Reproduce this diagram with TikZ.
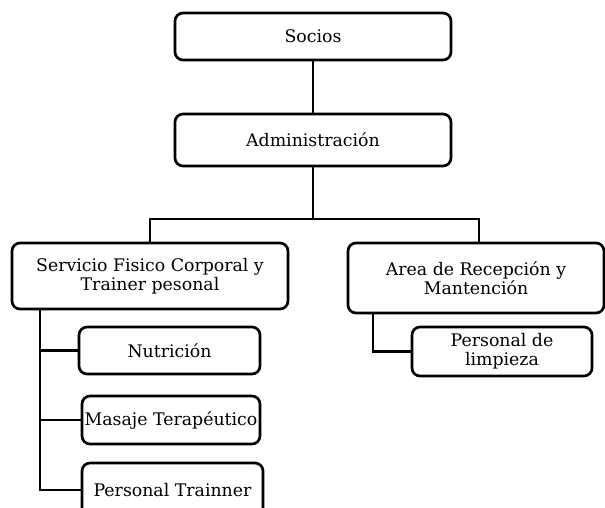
\documentclass[tikz,border=0pt]{standalone}
\usepackage{fontspec}
\setmainfont{DejaVu Serif}
\begin{document}
\begin{tikzpicture}[x=0.75pt,y=-0.75pt,
  orgbox/.style={draw, line width=2pt, rounded corners=6pt, fill=white,
    inner sep=0pt, align=center, font=\fontsize{13}{14.5}\selectfont},
  conn/.style={line width=2.1pt}]
\useasboundingbox (0,0) rectangle (605,507);
\clip (0,0) rectangle (605,507);
% coordinates
\coordinate (j) at (313,219);
\coordinate (jl) at (150,219);
\coordinate (jr) at (479,219);
\coordinate (lspine) at (40,309);
\coordinate (rspine) at (373,313);
% boxes
\node[orgbox, minimum width=276*0.75pt, minimum height=47*0.75pt] (socios) at (313,36.5) {Socios};
\node[orgbox, minimum width=276*0.75pt, minimum height=52*0.75pt] (admin) at (313,140) {Administración};
\node[orgbox, minimum width=276*0.75pt, minimum height=66*0.75pt] (serv) at (150,276) {Servicio Fisico Corporal y\\Trainer pesonal};
\node[orgbox, minimum width=256*0.75pt, minimum height=70*0.75pt] (area) at (476,278) {Area de Recepción y\\Mantención};
\node[orgbox, minimum width=181*0.75pt, minimum height=47*0.75pt] (nutri) at (169.5,350.5) {Nutrición};
\node[orgbox, minimum width=178*0.75pt, minimum height=48*0.75pt] (masaje) at (171,420) {Masaje Terapéutico};
\node[orgbox, minimum width=181*0.75pt, minimum height=54*0.75pt] (trainer) at (172.5,490) {Personal Trainner};
\node[orgbox, minimum width=180*0.75pt, minimum height=49*0.75pt] (limp) at (502,351.5) {Personal de\\limpieza};
% connectors
\draw[conn] (socios.south) -- (admin.north);
\draw[conn] (admin.south) -- (j);
\draw[conn] (serv.north) -- (jl) -- (jr) -- (jr |- area.north);
\draw[conn] (lspine) |- (nutri.west);
\draw[conn] (lspine) |- (masaje.west);
\draw[conn] (lspine) |- (trainer.west);
\draw[conn] (rspine) |- (limp.west);
\end{tikzpicture}
\end{document}
